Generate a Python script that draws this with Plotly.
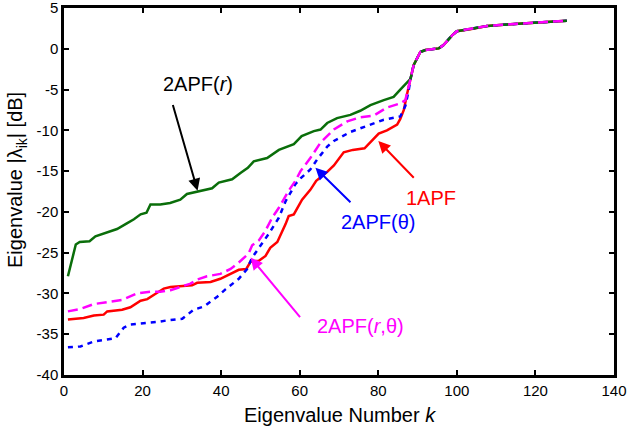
import plotly.graph_objects as go

# ---- data ----
tail_k = [89.0, 90.7, 92.0, 95.4, 96.6, 98.8, 100.0, 103.4, 106.0, 107.7, 113.6, 118.7, 123.8, 128.0]
tail_v = [-2.0, -0.4, -0.15, 0.05, 0.45, 1.65, 2.15, 2.4, 2.6, 2.8, 3.0, 3.13, 3.3, 3.45]

green_k = [1, 3, 4, 6.5, 8, 11, 13.5, 16, 17.8, 19.5, 21, 22, 24.5, 27, 29.6, 31.3, 34.7, 37.7,
           39.4, 42.8, 45, 46.8, 48.3, 51.7, 54.7, 58.5, 60.5, 63.6, 65.3, 67, 69.5, 72.9, 75.4, 78,
           81.4, 83.9, 85.6, 87.3, 88.2]
green_v = [-27.9, -24.0, -23.7, -23.6, -23.0, -22.5, -22.1, -21.4, -20.9, -20.3, -20.1, -19.1,
           -19.1, -18.9, -18.5, -17.8, -17.4, -17.1, -16.4, -16.0, -15.2, -14.6, -13.8, -13.4, -12.4,
           -11.7, -10.7, -10.1, -9.9, -9.1, -8.5, -8.1, -7.6, -6.9, -6.3, -5.9, -5.0, -4.1, -3.7]

red_k = [1, 5, 7.6, 10.1, 11, 14.8, 16.9, 19.5, 21.2, 23.3, 25.4, 27.1, 30.5, 32.6, 33.9, 37.3,
         39.8, 42.4, 44.5, 46.4, 47.5, 49.6, 51.3, 52.5, 54.3, 56.4, 57.2, 58.5, 60.6, 62.7,
         64.2, 67, 68.7, 71.2, 73.5, 76.5, 78.8, 80.1, 82.2, 84.8, 85.6, 86.5, 87.3, 88.2]
red_v = [-33.2, -33.0, -32.7, -32.6, -32.2, -32.0, -31.7, -30.9, -30.7, -30.0, -29.4, -29.2,
         -29.1, -29.0, -28.7, -28.6, -28.2, -27.6, -27.1, -27.0, -26.1, -26.0, -25.4, -24.4,
         -23.7, -21.5, -20.5, -20.3, -18.5, -17.3, -16.2, -15.1, -14.3, -12.7, -12.4, -12.2,
         -11.1, -10.4, -10.0, -9.3, -8.6, -7.5, -5.6, -3.7]

blue_k = [1, 4.2, 7.6, 11.8, 13.1, 15.2, 16.9, 21.2, 23.7, 26.3, 30.1, 33, 35.6, 39, 41.1, 44.5,
          46.6, 47.9, 49.6, 52.1, 54.7, 56.4, 58.9, 60.2, 62.7, 64.4, 67, 68.7, 72.9, 77.2,
          81.4, 85.6, 86.9, 87.7, 88.2]
blue_v = [-36.6, -36.5, -35.9, -35.6, -35.5, -34.2, -33.8, -33.6, -33.5, -33.3, -33.1, -32.0,
          -31.6, -30.4, -29.5, -28.2, -27.0, -25.6, -24.4, -22.7, -20.7, -18.7, -16.6, -15.9,
          -14.8, -13.6, -12.0, -11.3, -10.2, -9.4, -8.7, -8.3, -7.0, -5.2, -3.7]

mag_k = [1, 4.2, 7.6, 11, 14.8, 18.6, 22, 24.5, 27.1, 29.6, 32.2, 33.9, 36.4, 39.8, 42.4, 44.5,
         47, 47.9, 49.6, 51.3, 53, 54.7, 57.2, 58.9, 60.2, 62.7, 65.3, 68.7, 72.1, 75.4, 78.8,
         82.2, 85.6, 86.9, 87.7, 88.2]
mag_v = [-32.2, -31.9, -31.3, -31.1, -30.8, -30.0, -29.8, -29.8, -29.6, -29.2, -28.8, -28.3,
         -27.9, -27.6, -27.0, -26.2, -25.1, -24.1, -23.5, -22.3, -20.7, -19.5, -17.4, -16.2,
         -15.0, -13.4, -11.5, -9.9, -8.9, -8.4, -8.2, -7.2, -6.7, -6.3, -4.8, -3.7]

x_ticks = [0, 20, 40, 60, 80, 100, 120, 140]
y_ticks = [-40, -35, -30, -25, -20, -15, -10, -5, 0, 5]

series = [
    ("1APF", red_k, red_v, "#ff0000", "solid"),
    ("2APF(θ)", blue_k, blue_v, "#0000ff", "5px,5px"),
    ("2APF(r)", green_k, green_v, "#0a6e0a", "solid"),
    ("2APF(r,θ)", mag_k, mag_v, "#ff00ff", "10px,5px"),
]

FONT = "Liberation Sans, Arial, Helvetica, sans-serif"

fig = go.Figure()
for name, ks, vs, col, dash in series:
    fig.add_trace(go.Scatter(x=ks + tail_k, y=vs + tail_v, mode="lines", name=name,
                             line=dict(color=col, width=2.5, dash=dash), showlegend=False))

# labels: (text, text_x, text_y, tip_x, tip_y, tail_x, tail_y, color)
labels = [
    ("2APF(<i>r</i>)", 34.0, -4.3, 34.0, -17.4, 27.6, -6.7, "#000000"),
    ("1APF", 93.3, -18.3, 80.0, -11.3, 89.4, -16.0, "#ff0000"),
    ("2APF(θ)", 80.0, -21.3, 64.0, -14.6, 73.3, -19.0, "#0000ff"),
    ("2APF(<i>r</i>,θ)", 75.4, -34.0, 47.5, -25.6, 60.4, -33.1, "#ff00ff"),
]
for txt, tx, ty, hx, hy, sx, sy, col in labels:
    fig.add_annotation(x=hx, y=hy, ax=sx, ay=sy, xref="x", yref="y", axref="x", ayref="y",
                       text="", showarrow=True, arrowhead=2, arrowsize=1.2, arrowwidth=2,
                       arrowcolor=col)
    fig.add_annotation(x=tx, y=ty, xref="x", yref="y", text=txt, showarrow=False,
                       font=dict(family=FONT, size=20, color=col))

# axis titles as annotations (placed as in the reference)
fig.add_annotation(x=-0.085, y=0.532, xref="paper", yref="paper", textangle=-90,
                   text="Eigenvalue |λ<sub>ik</sub>| [dB]", showarrow=False,
                   xanchor="center", yanchor="middle",
                   font=dict(family=FONT, size=20, color="black"))
fig.add_annotation(x=0.502, y=-0.108, xref="paper", yref="paper",
                   text="Eigenvalue Number <i>k</i>", showarrow=False,
                   xanchor="center", yanchor="middle",
                   font=dict(family=FONT, size=20, color="black"))

axis_common = dict(showline=True, linecolor="black", linewidth=2.5, mirror="ticks",
                   ticks="inside", ticklen=5, tickwidth=1.5, tickcolor="black",
                   showgrid=False, zeroline=False, ticklabeloverflow="allow",
                   automargin=False,
                   tickfont=dict(family=FONT, size=15, color="black"))

fig.update_xaxes(range=[0, 140], tickvals=x_ticks, **axis_common)
fig.update_yaxes(range=[-40, 5], tickvals=y_ticks, ticktext=[str(v) for v in y_ticks],
                 **axis_common)

fig.update_layout(width=628, height=432, margin=dict(l=64, r=14, t=8, b=57),
                  plot_bgcolor="white", paper_bgcolor="white")

fig.write_html("out.html")
